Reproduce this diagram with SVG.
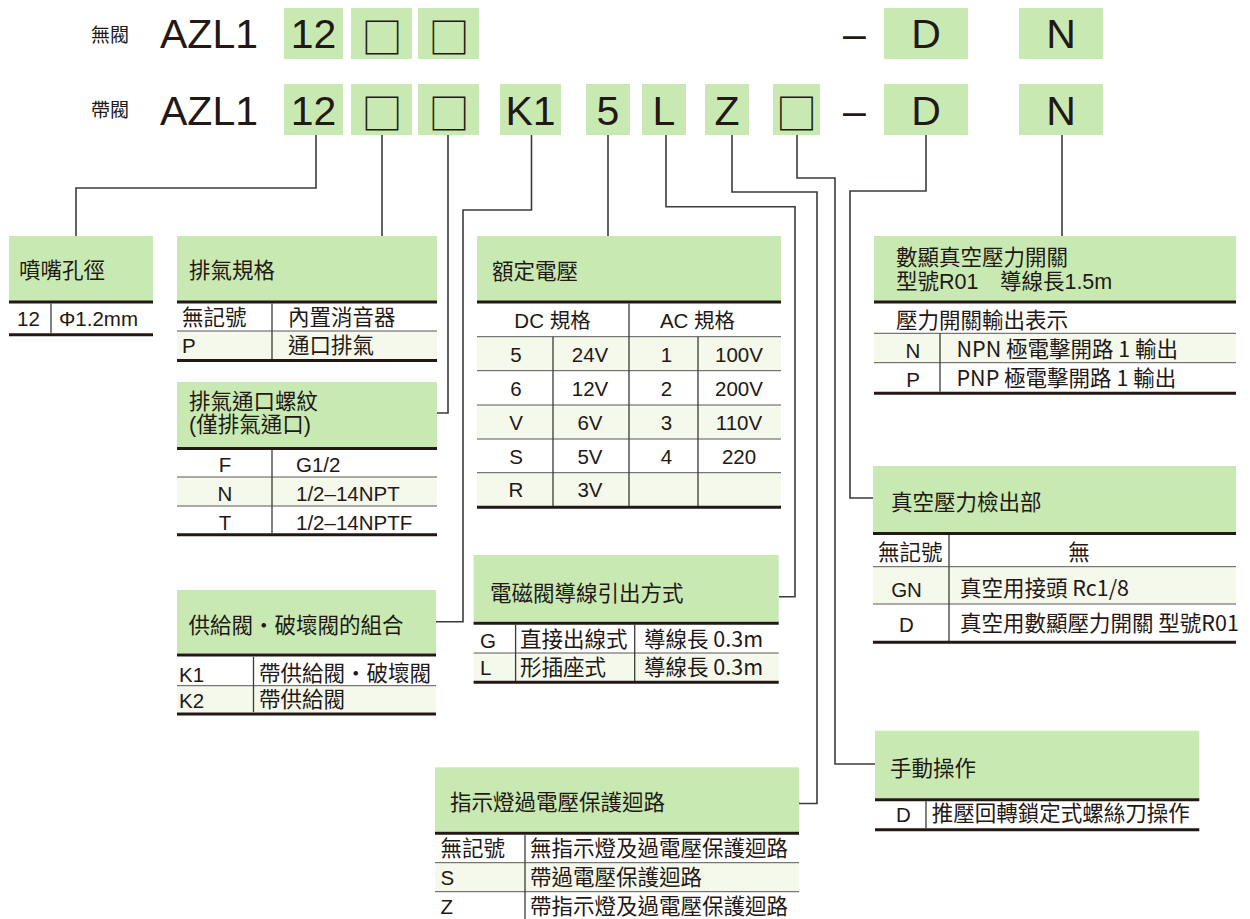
<svg xmlns="http://www.w3.org/2000/svg" width="1250" height="919" viewBox="0 0 1250 919">
<style>
text{font-family:"Liberation Sans","Noto Sans CJK TC",sans-serif;fill:#231815}
.big{font-size:41px}
.sq{font-family:"Noto Sans CJK TC",sans-serif;font-size:41px}
.lbl{font-family:"Noto Sans CJK TC",sans-serif;font-size:19px}
.t{font-size:21.5px}
.r{font-size:21.5px}
.n{font-size:20.5px}
.nt{font-family:"Noto Sans CJK TC",sans-serif;font-size:21.5px}
.m{text-anchor:middle}
.hd{fill:#c8eab2}
.lt{fill:#f4f9ec}
.tk{stroke:#231815;stroke-width:3;fill:none}
.th{stroke:#595757;stroke-width:1;fill:none}
.sp{stroke:#3e3a39;stroke-width:1.3;fill:none}
.cn{stroke:#3e3a39;stroke-width:1.6;fill:none}
</style>

<g id="code-header">
<text class="lbl" x="91" y="42">無閥</text>
<text class="lbl" x="91" y="117">帶閥</text>
<text class="big" x="160" y="47.5">AZL1</text>
<text class="big" x="160" y="124.5">AZL1</text>
<rect class="hd" x="284" y="8" width="59" height="51"/>
<rect class="hd" x="351" y="8" width="61" height="51"/>
<rect class="hd" x="418" y="8" width="61" height="51"/>
<rect class="hd" x="884" y="8" width="84" height="51"/>
<rect class="hd" x="1019" y="8" width="84" height="51"/>
<rect class="hd" x="284" y="84" width="59" height="51"/>
<rect class="hd" x="351" y="84" width="61" height="51"/>
<rect class="hd" x="418" y="84" width="61" height="51"/>
<rect class="hd" x="500" y="84" width="61" height="51"/>
<rect class="hd" x="586" y="84" width="44" height="51"/>
<rect class="hd" x="642" y="84" width="44" height="51"/>
<rect class="hd" x="705" y="84" width="44" height="51"/>
<rect class="hd" x="773" y="84" width="47" height="51"/>
<rect class="hd" x="884" y="84" width="84" height="51"/>
<rect class="hd" x="1019" y="84" width="84" height="51"/>
<text class="big m" x="313.5" y="47.5">12</text>
<text class="sq m" x="382" y="53">□</text>
<text class="sq m" x="449" y="53">□</text>
<text class="big" x="843" y="47.5">–</text>
<text class="big m" x="926" y="47.5">D</text>
<text class="big m" x="1061" y="47.5">N</text>
<text class="big m" x="313.5" y="124.5">12</text>
<text class="sq m" x="382" y="129">□</text>
<text class="sq m" x="449" y="129">□</text>
<text class="big m" x="530.5" y="124.5">K1</text>
<text class="big m" x="608" y="124.5">5</text>
<text class="big m" x="664" y="124.5">L</text>
<text class="big m" x="727" y="124.5">Z</text>
<text class="sq m" x="796.5" y="129">□</text>
<text class="big" x="843" y="124.5">–</text>
<text class="big m" x="926" y="124.5">D</text>
<text class="big m" x="1061" y="124.5">N</text>
</g>

<g id="connectors">
<path class="cn" d="M316,135V188H76V236"/>
<path class="cn" d="M382,135V236"/>
<path class="cn" d="M448,135V413H437"/>
<path class="cn" d="M531.5,135V210H463V621.7H436"/>
<path class="cn" d="M608,135V236"/>
<path class="cn" d="M666,135V206.7H795V596.7H779"/>
<path class="cn" d="M732,135V192H817V803.5H799"/>
<path class="cn" d="M797,135V178H835V764H875"/>
<path class="cn" d="M926,135V191H850V498H873"/>
<path class="cn" d="M1062,135V236"/>
</g>

<g id="nozzle">
<rect class="hd" x="9" y="236" width="144" height="65"/>
<text class="t" x="19" y="278">噴嘴孔徑</text>
<path class="tk" d="M9,302H153M9,334.7H153"/>
<path class="sp" d="M51,303.5V333"/>
<text class="n" x="17" y="326">12</text>
<text class="n" x="59" y="326">Φ1.2mm</text>
</g>

<g id="exhaust">
<rect class="hd" x="177" y="236" width="260" height="65"/>
<text class="t" x="189" y="278">排氣規格</text>
<rect class="lt" x="177" y="331" width="260" height="28.5"/>
<path class="tk" d="M177,302H437M177,360.5H437"/>
<path class="th" d="M177,331H437"/>
<path class="sp" d="M272,303.5V359"/>
<text class="r" x="182" y="325">無記號</text>
<text class="r" x="288" y="325">內置消音器</text>
<text class="n" x="182" y="352.5">P</text>
<text class="r" x="288" y="353">通口排氣</text>
</g>

<g id="exhaust-thread">
<rect class="hd" x="177" y="382" width="260" height="65"/>
<text class="t" x="189" y="409">排氣通口螺紋</text>
<text class="t" x="189" y="432">(僅排氣通口)</text>
<rect class="lt" x="177" y="477" width="260" height="29"/>
<path class="tk" d="M177,448.5H437M177,534.7H437"/>
<path class="th" d="M177,477H437M177,506H437"/>
<path class="sp" d="M272,450V533"/>
<text class="n m" x="225" y="472">F</text>
<text class="n" x="296" y="472">G1/2</text>
<text class="n m" x="225" y="501">N</text>
<text class="n" x="296" y="501">1/2–14NPT</text>
<text class="n m" x="225" y="529.5">T</text>
<text class="n" x="296" y="529.5">1/2–14NPTF</text>
</g>

<g id="voltage">
<rect class="hd" x="477" y="236" width="304" height="65"/>
<text class="t" x="492" y="279">額定電壓</text>
<rect class="lt" x="477" y="336.7" width="304" height="34"/>
<rect class="lt" x="477" y="405" width="304" height="34"/>
<rect class="lt" x="477" y="472.7" width="304" height="33.3"/>
<path class="tk" d="M477,302H781M477,507.3H781"/>
<path class="th" d="M477,336.7H781M477,370.7H781M477,405H781M477,439H781M477,472.7H781"/>
<path class="sp" d="M629,303.5V506M553,336.7V506M698,336.7V506"/>
<text class="n m" x="552.5" y="327.5">DC 規格</text>
<text class="n m" x="697.5" y="327.5">AC 規格</text>
<text class="n m" x="516" y="361.5">5</text>
<text class="n m" x="590" y="361.5">24V</text>
<text class="n m" x="666.5" y="361.5">1</text>
<text class="n m" x="739" y="361.5">100V</text>
<text class="n m" x="516" y="395.5">6</text>
<text class="n m" x="590" y="395.5">12V</text>
<text class="n m" x="666.5" y="395.5">2</text>
<text class="n m" x="739" y="395.5">200V</text>
<text class="n m" x="516" y="429.5">V</text>
<text class="n m" x="590" y="429.5">6V</text>
<text class="n m" x="666.5" y="429.5">3</text>
<text class="n m" x="739" y="429.5">110V</text>
<text class="n m" x="516" y="463.5">S</text>
<text class="n m" x="590" y="463.5">5V</text>
<text class="n m" x="666.5" y="463.5">4</text>
<text class="n m" x="739" y="463.5">220</text>
<text class="n m" x="516" y="497">R</text>
<text class="n m" x="590" y="497">3V</text>
</g>

<g id="pressure-switch">
<rect class="hd" x="874" y="236" width="362" height="65"/>
<text class="t" x="896" y="265">數顯真空壓力開關</text>
<text class="t" x="896" y="288.5">型號R01　導線長1.5m</text>
<rect class="lt" x="874" y="333.3" width="362" height="29.4"/>
<path class="tk" d="M874,302H1236M874,393.3H1236"/>
<path class="th" d="M874,333.3H1236M874,362.7H1236"/>
<path class="sp" d="M940,333.3V391.7"/>
<text class="r" x="896" y="327.5">壓力開關輸出表示</text>
<text class="n m" x="913" y="358">N</text>
<text class="nt" x="956.5" y="357">NPN 極電擊開路 1 輸出</text>
<text class="n m" x="913" y="386.5">P</text>
<text class="nt" x="956.5" y="385.5">PNP 極電擊開路 1 輸出</text>
</g>

<g id="vacuum-detect">
<rect class="hd" x="873" y="466" width="363" height="66"/>
<text class="t" x="891" y="510">真空壓力檢出部</text>
<rect class="lt" x="873" y="566.7" width="363" height="37.3"/>
<path class="tk" d="M873,533.5H1236M873,642.3H1236"/>
<path class="th" d="M873,566.7H1236M873,604H1236"/>
<path class="sp" d="M949,535V641"/>
<text class="r" x="878" y="560">無記號</text>
<text class="r m" x="1079" y="560">無</text>
<text class="n m" x="906.5" y="596.5">GN</text>
<text class="nt" x="960" y="595.5">真空用接頭 Rc1/8</text>
<text class="n m" x="906.5" y="631.5">D</text>
<text class="nt" x="960" y="630.5">真空用數顯壓力開關 型號R01</text>
</g>

<g id="valve-combo">
<rect class="hd" x="177" y="590" width="259" height="63.3"/>
<text class="t" x="188.5" y="632.5">供給閥・破壞閥的組合</text>
<rect class="lt" x="177" y="685.7" width="259" height="26.3"/>
<path class="tk" d="M177,655H436M177,714H436"/>
<path class="th" d="M177,685.7H436"/>
<path class="sp" d="M253.5,656.7V712"/>
<text class="n" x="179" y="681.5">K1</text>
<text class="r" x="259" y="680.5">帶供給閥・破壞閥</text>
<text class="n" x="179" y="708">K2</text>
<text class="r" x="259" y="707">帶供給閥</text>
</g>

<g id="lead-wire">
<rect class="hd" x="473.6" y="555" width="305.1" height="66.7"/>
<text class="t" x="490" y="601">電磁閥導線引出方式</text>
<rect class="lt" x="473.6" y="653" width="305.1" height="27.7"/>
<path class="tk" d="M473.6,623.3H778.7M473.6,682.3H778.7"/>
<path class="th" d="M473.6,653H778.7"/>
<path class="sp" d="M515.6,625V681M634.7,625V681"/>
<text class="n" x="480" y="648.3">G</text>
<text class="r" x="520" y="647">直接出線式</text>
<text class="nt" x="644" y="646.5">導線長 0.3m</text>
<text class="n" x="480" y="675">L</text>
<text class="r" x="520" y="674.5">形插座式</text>
<text class="nt" x="644" y="675">導線長 0.3m</text>
</g>

<g id="indicator">
<rect class="hd" x="435" y="767.3" width="364" height="64.4"/>
<text class="t" x="450" y="810">指示燈過電壓保護迴路</text>
<rect class="lt" x="435" y="862.7" width="364" height="29"/>
<path class="tk" d="M435,833.3H799"/>
<path class="th" d="M435,862.7H799M435,891.7H799"/>
<path class="sp" d="M525,835V919"/>
<text class="r" x="440.5" y="856">無記號</text>
<text class="r" x="530" y="856">無指示燈及過電壓保護迴路</text>
<text class="n" x="440.5" y="885">S</text>
<text class="r" x="530" y="884.5">帶過電壓保護迴路</text>
<text class="n" x="440.5" y="914">Z</text>
<text class="r" x="530" y="913.5">帶指示燈及過電壓保護迴路</text>
</g>

<g id="manual">
<rect class="hd" x="875" y="730.7" width="324.3" height="67.6"/>
<text class="t" x="890" y="776">手動操作</text>
<path class="tk" d="M875,799.7H1199.3M875,829.7H1199.3"/>
<path class="sp" d="M926,801.2V828.3"/>
<text class="n m" x="903.3" y="821.5">D</text>
<text class="r" x="931.7" y="821">推壓回轉鎖定式螺絲刀操作</text>
</g>
</svg>
